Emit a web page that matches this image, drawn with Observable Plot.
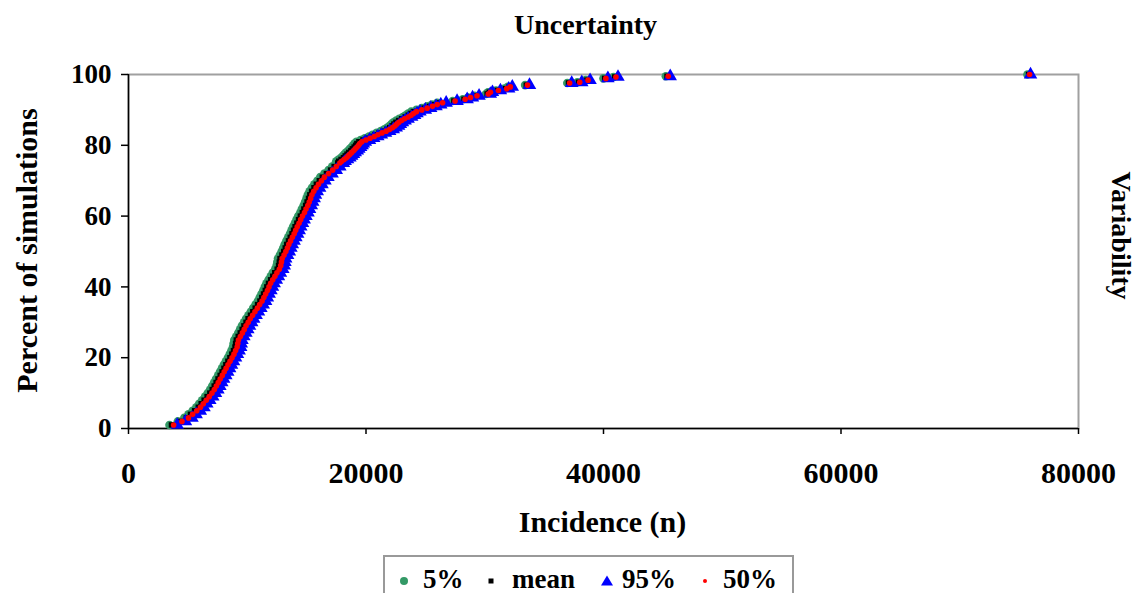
<!DOCTYPE html>
<html>
<head>
<meta charset="utf-8">
<script src="https://cdn.jsdelivr.net/npm/d3@7"></script>
<script src="https://cdn.jsdelivr.net/npm/@observablehq/plot@0.6"></script>
<style>
  html, body { margin: 0; padding: 0; background: #fff; }
  #wrap { position: relative; width: 1136px; height: 593px; overflow: hidden;
          font-family: "Liberation Serif", "Times New Roman", serif; font-weight: bold; }
  #legend { position: absolute; left: 383px; top: 555px; width: 411px; height: 60px;
            border: 2px solid #999; box-sizing: border-box; background: #fff; }
  #legend .lbl { position: absolute; font-size: 27px; line-height: 27px; color: #000; white-space: nowrap; }
  #legend svg.sym { position: absolute; }
</style>
</head>
<body>
<div id="wrap"></div>
<script>
// Cumulative percent of simulations (shared by all series)
const pct = [
  1,2,3,4,5,6,7,8,9,10,
  11,12,13,14,15,16,17,18,19,20,
  21,22,23,24,25,26,27,28,29,30,
  31,32,33,34,35,36,37,38,39,40,
  41,42,43,44,45,46,47,48,49,50,
  51,52,53,54,55,56,57,58,59,60,
  61,62,63,64,65,66,67,68,69,70,
  71,72,73,74,75,
  75.5,76,76.5,77,77.5,78,78.5,79,79.5,
  80,80.5,81,81.5,82,82.5,83,83.5,84,84.5,
  85,85.5,86,86.5,87,87.5,88,88.5,89,89.5,
  90,90.5,91,91.5,92,
  92.5,93,93.5,94,94.5,95,95.5,96,96.5,97,97.6,97.8,98.4,98.9,99.3,99.5,100
];

// Incidence (n) for the 5% uncertainty series
const p5 = [
  3450,4150,4700,5050,5400,5710,5950,6200,6450,6680,
  6880,7050,7210,7370,7550,7710,7870,8030,8200,8370,
  8530,8670,8800,8850,8910,9070,9240,9400,9550,9730,
  9900,10100,10300,10500,10700,10900,11050,11200,11350,11480,
  11620,11800,11980,12150,12350,12470,12530,12590,12750,12900,
  13030,13150,13300,13450,13600,13730,13860,14010,14150,14300,
  14470,14600,14750,14870,14990,15100,15250,15450,15650,15900,
  16150,16500,16850,17150,17450,
  17500,17700,17900,18050,18200,18350,18525,18650,18800,
  18930,19030,19200,19550,19900,20250,20550,20900,21250,21550,
  21800,22000,22150,22320,22550,22800,23100,23350,23550,23800,
  24250,24700,25150,25550,26000,
  27300,28150,28600,29150,30100,30280,30950,31650,31950,33400,36950,37800,38500,40000,40850,45250,75700
];

// Incidence (n) for the mean series
const pMean = [
  3620,4320,4870,5220,5570,5880,6120,6370,6620,6850,
  7050,7220,7380,7540,7720,7880,8040,8200,8370,8540,
  8700,8840,8970,9020,9080,9240,9410,9570,9720,9900,
  10070,10270,10470,10670,10870,11070,11220,11370,11520,11650,
  11790,11970,12150,12320,12520,12640,12700,12760,12920,13070,
  13200,13320,13470,13620,13770,13900,14030,14180,14320,14470,
  14640,14770,14920,15040,15160,15270,15420,15620,15820,16070,
  16320,16670,17020,17320,17620,
  17700,17900,18100,18250,18400,18550,18725,18850,19000,
  19130,19230,19400,19750,20100,20450,20750,21100,21450,21750,
  22000,22200,22350,22520,22750,23000,23300,23550,23750,24000,
  24450,24900,25350,25750,26200,
  27400,28250,28700,29250,30200,30380,31050,31750,32050,33500,37050,37900,38600,40100,40950,45350,75800
];

// Incidence (n) for the 95% uncertainty series
const p95 = [
  4100,4800,5350,5700,6050,6360,6600,6850,7100,7330,
  7530,7700,7860,8020,8200,8360,8520,8680,8850,9020,
  9180,9320,9450,9500,9560,9720,9890,10050,10200,10380,
  10550,10750,10950,11150,11350,11550,11700,11850,12000,12130,
  12270,12450,12630,12800,13000,13120,13180,13240,13400,13550,
  13680,13800,13950,14100,14250,14380,14510,14660,14800,14950,
  15120,15250,15400,15520,15640,15750,15900,16100,16300,16550,
  16800,17150,17500,17800,18100,
  18250,18450,18650,18800,18950,19100,19275,19400,19550,
  19680,19780,19950,20300,20650,21000,21300,21650,22000,22300,
  22550,22750,22900,23070,23300,23550,23850,24100,24300,24550,
  25000,25450,25900,26300,26750,
  27670,28520,28970,29520,30470,30650,31320,32020,32320,33770,37320,38170,38870,40370,41220,45620,75960
];

// Incidence (n) for the 50% uncertainty series
const p50 = [
  3800,4500,5050,5400,5750,6060,6300,6550,6800,7030,
  7230,7400,7560,7720,7900,8060,8220,8380,8550,8720,
  8880,9020,9150,9200,9260,9420,9590,9750,9900,10080,
  10250,10450,10650,10850,11050,11250,11400,11550,11700,11830,
  11970,12150,12330,12500,12700,12820,12880,12940,13100,13250,
  13380,13500,13650,13800,13950,14080,14210,14360,14500,14650,
  14820,14950,15100,15220,15340,15450,15600,15800,16000,16250,
  16500,16850,17200,17500,17800,
  17950,18150,18350,18500,18650,18800,18975,19100,19250,
  19380,19480,19650,20000,20350,20700,21000,21350,21700,22000,
  22250,22450,22600,22770,23000,23250,23550,23800,24000,24250,
  24700,25150,25600,26000,26450,
  27500,28350,28800,29350,30300,30480,31150,31850,32150,33600,37150,38000,38700,40200,41050,45450,75880
];

const xTicks = [0, 20000, 40000, 60000, 80000];
const yTicks = [0, 20, 40, 60, 80, 100];
const seriesNames = ["5%", "mean", "95%", "50%"];
const colors = {"5%": "#339966", "mean": "#000000", "95%": "#0000ff", "50%": "#ff0000"};

const rows = xs => xs.map((x, i) => ({x, y: pct[i]}));

const font = "Liberation Serif, Times New Roman, serif";

const chart = Plot.plot({
  width: 1136,
  height: 593,
  marginLeft: 128,
  marginRight: 58,
  marginTop: 74,
  marginBottom: 165,
  style: {fontFamily: font, fontWeight: "bold", color: "#000", background: "transparent", overflow: "visible"},
  x: {domain: [0, 80000]},
  y: {domain: [0, 100]},
  marks: [
    Plot.frame({stroke: "#a0a0a0", strokeWidth: 2}),
    Plot.axisX(xTicks, {tickSize: 6, tickPadding: 27, tickFormat: d => String(d), label: null, fontSize: 30, strokeWidth: 1.5}),
    Plot.axisY(yTicks, {tickSize: 7, tickPadding: 10, tickFormat: d => String(d), label: null, fontSize: 27, strokeWidth: 1.5}),
    Plot.ruleX([0], {stroke: "#000", strokeWidth: 1.5}),
    Plot.ruleY([0], {stroke: "#000", strokeWidth: 1.5}),
    Plot.dot(rows(p5), {x: "x", y: "y", r: 4.3, fill: colors["5%"], stroke: null}),
    Plot.dot(rows(pMean), {x: "x", y: "y", symbol: "square", r: 3.1, fill: colors["mean"], stroke: null}),
    Plot.dot(rows(p95), {x: "x", y: "y", symbol: "triangle", r: 5, fill: colors["95%"], stroke: null}),
    Plot.dot(rows(p50), {x: "x", y: "y", r: 2.8, fill: colors["50%"], stroke: null}),
    Plot.text(["Uncertainty"], {frameAnchor: "top", lineAnchor: "middle", dx: -18, dy: -49, fontSize: 28, fontWeight: "bold", fill: "#000"}),
    Plot.text(["Incidence (n)"], {frameAnchor: "bottom", lineAnchor: "middle", dx: -1, dy: 94, fontSize: 30, fontWeight: "bold", fill: "#000"}),
    Plot.text(["Percent of simulations"], {frameAnchor: "left", textAnchor: "middle", lineAnchor: "middle", dx: -101, dy: -1, rotate: -90, fontSize: 30, fontWeight: "bold", fill: "#000"}),
    Plot.text(["Variability"], {frameAnchor: "right", textAnchor: "middle", lineAnchor: "middle", dx: 42, dy: -16, rotate: 90, fontSize: 28, fontWeight: "bold", fill: "#000"})
  ]
});

const wrap = document.getElementById("wrap");
wrap.appendChild(chart);

// Legend (HTML, below the plot frame)
const legend = document.createElement("div");
legend.id = "legend";
const legendLayout = [
  {name: "5%", symX: 19, lblX: 38},
  {name: "mean", symX: 106, lblX: 127},
  {name: "95%", symX: 222, lblX: 237},
  {name: "50%", symX: 320, lblX: 338}
];
const symbolSvg = (name) => {
  const c = colors[name];
  if (name === "5%") return `<circle cx="8" cy="8" r="4" fill="${c}"/>`;
  if (name === "mean") return `<rect x="5.5" y="5.5" width="5" height="5" fill="${c}"/>`;
  if (name === "95%") return `<polygon points="8,2.5 14,12.5 2,12.5" fill="${c}"/>`;
  return `<circle cx="8" cy="8" r="2" fill="${c}"/>`;
};
legendLayout.forEach(item => {
  const s = document.createElementNS("http://www.w3.org/2000/svg", "svg");
  s.setAttribute("class", "sym");
  s.setAttribute("width", 16);
  s.setAttribute("height", 16);
  s.style.left = (item.symX - 8) + "px";
  s.style.top = (24 - 8) + "px";
  s.innerHTML = symbolSvg(item.name);
  legend.appendChild(s);
  const t = document.createElement("span");
  t.className = "lbl";
  t.style.left = item.lblX + "px";
  t.style.top = "9px";
  t.textContent = item.name;
  legend.appendChild(t);
});
wrap.appendChild(legend);
</script>
</body>
</html>
